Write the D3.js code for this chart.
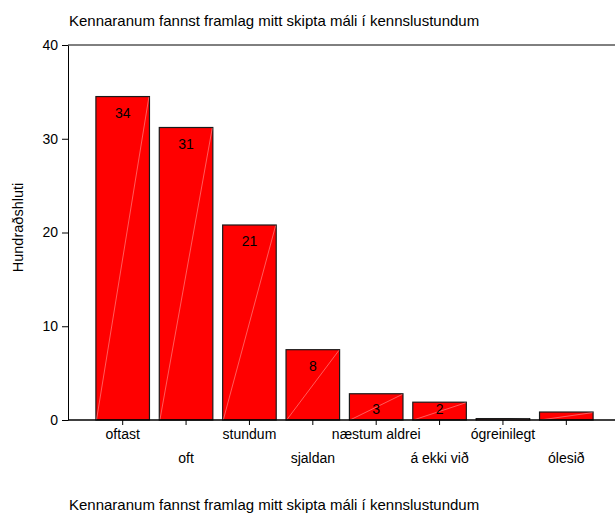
<!DOCTYPE html>
<html>
<head>
<meta charset="utf-8">
<script src="https://cdn.jsdelivr.net/npm/d3@7"></script>
<style>
  body { margin: 0; background: #fff; }
  svg text { font-family: "Liberation Sans", Arial, sans-serif; fill: #000; }
</style>
</head>
<body>
<svg id="chart" width="615" height="514"></svg>
<script>
const title = "Kennaranum fannst framlag mitt skipta máli í kennslustundum";
const yLabel = "Hundraðshluti";
const categories = ["oftast", "oft", "stundum", "sjaldan", "næstum aldrei", "á ekki við", "ógreinilegt", "ólesið"];
const percents = [34.5, 31.2, 20.8, 7.5, 2.8, 1.9, 0.15, 0.85];
const barLabels = ["34", "31", "21", "8", "3", "2", "", ""];
const yTicks = [0, 10, 20, 30, 40];

const width = 615;
const height = 514;
const margin = { top: 45, right: 0, bottom: 94, left: 68 };

const svg = d3.select("#chart");

const y = d3.scaleLinear()
  .domain([0, 40])
  .range([height - margin.bottom, margin.top]);

const x = d3.scaleBand()
  .domain(categories)
  .range([91, 598])
  .paddingInner(0.155)
  .paddingOuter(0.0775);

// titles
svg.append("text")
  .attr("x", margin.left + 1)
  .attr("y", 26)
  .attr("font-size", 15)
  .text(title);

svg.append("text")
  .attr("x", margin.left + 1)
  .attr("y", 510)
  .attr("font-size", 15)
  .text(title);

svg.append("text")
  .attr("transform", `translate(23, ${(y(0) + y(40)) / 2 - 5}) rotate(-90)`)
  .attr("text-anchor", "middle")
  .attr("font-size", 14.5)
  .text(yLabel);

// bars
const bars = svg.append("g");
categories.forEach((c, i) => {
  const x0 = x(c);
  const x1 = x0 + x.bandwidth();
  const top = y(percents[i]);
  bars.append("rect")
    .attr("x", x0)
    .attr("y", top)
    .attr("width", x.bandwidth())
    .attr("height", y(0) - top)
    .attr("fill", "#ff0000")
    .attr("stroke", "#1a1a1a")
    .attr("stroke-width", 1.2);
  bars.append("line")
    .attr("x1", x0 + 0.6)
    .attr("y1", y(0))
    .attr("x2", x1 - 0.6)
    .attr("y2", top + 0.6)
    .attr("stroke", "#ffffff")
    .attr("stroke-opacity", 0.45)
    .attr("stroke-width", 0.8);
  if (barLabels[i]) {
    bars.append("text")
      .attr("x", x0 + x.bandwidth() / 2)
      .attr("y", Math.min(top + 21, y(0) - 6))
      .attr("text-anchor", "middle")
      .attr("font-size", 14)
      .text(barLabels[i]);
  }
});

// y axis
const yAxis = svg.append("g")
  .attr("transform", `translate(${margin.left},0)`)
  .call(d3.axisLeft(y).tickValues(yTicks).tickSize(6).tickSizeOuter(0).tickPadding(4));
yAxis.selectAll("text").attr("font-size", 14).style("font-family", "Liberation Sans, Arial, sans-serif");
yAxis.selectAll("line, path").attr("stroke", "#000");

// frame lines (top and bottom)
svg.append("line")
  .attr("x1", margin.left).attr("x2", width)
  .attr("y1", y(40)).attr("y2", y(40))
  .attr("stroke", "#000");
svg.append("line")
  .attr("x1", margin.left).attr("x2", width)
  .attr("y1", y(0)).attr("y2", y(0))
  .attr("stroke", "#000").attr("stroke-width", 1.5);

// x axis
const xAxis = svg.append("g")
  .attr("transform", `translate(0,${y(0)})`)
  .call(d3.axisBottom(x).tickSize(5).tickSizeOuter(0).tickPadding(6));
xAxis.select(".domain").remove();
xAxis.selectAll("line").attr("stroke", "#000");
xAxis.selectAll("text")
  .attr("font-size", 14)
  .style("font-family", "Liberation Sans, Arial, sans-serif")
  .attr("dy", (d, i) => i % 2 === 0 ? "0.6em" : "2.3em");
</script>
</body>
</html>
